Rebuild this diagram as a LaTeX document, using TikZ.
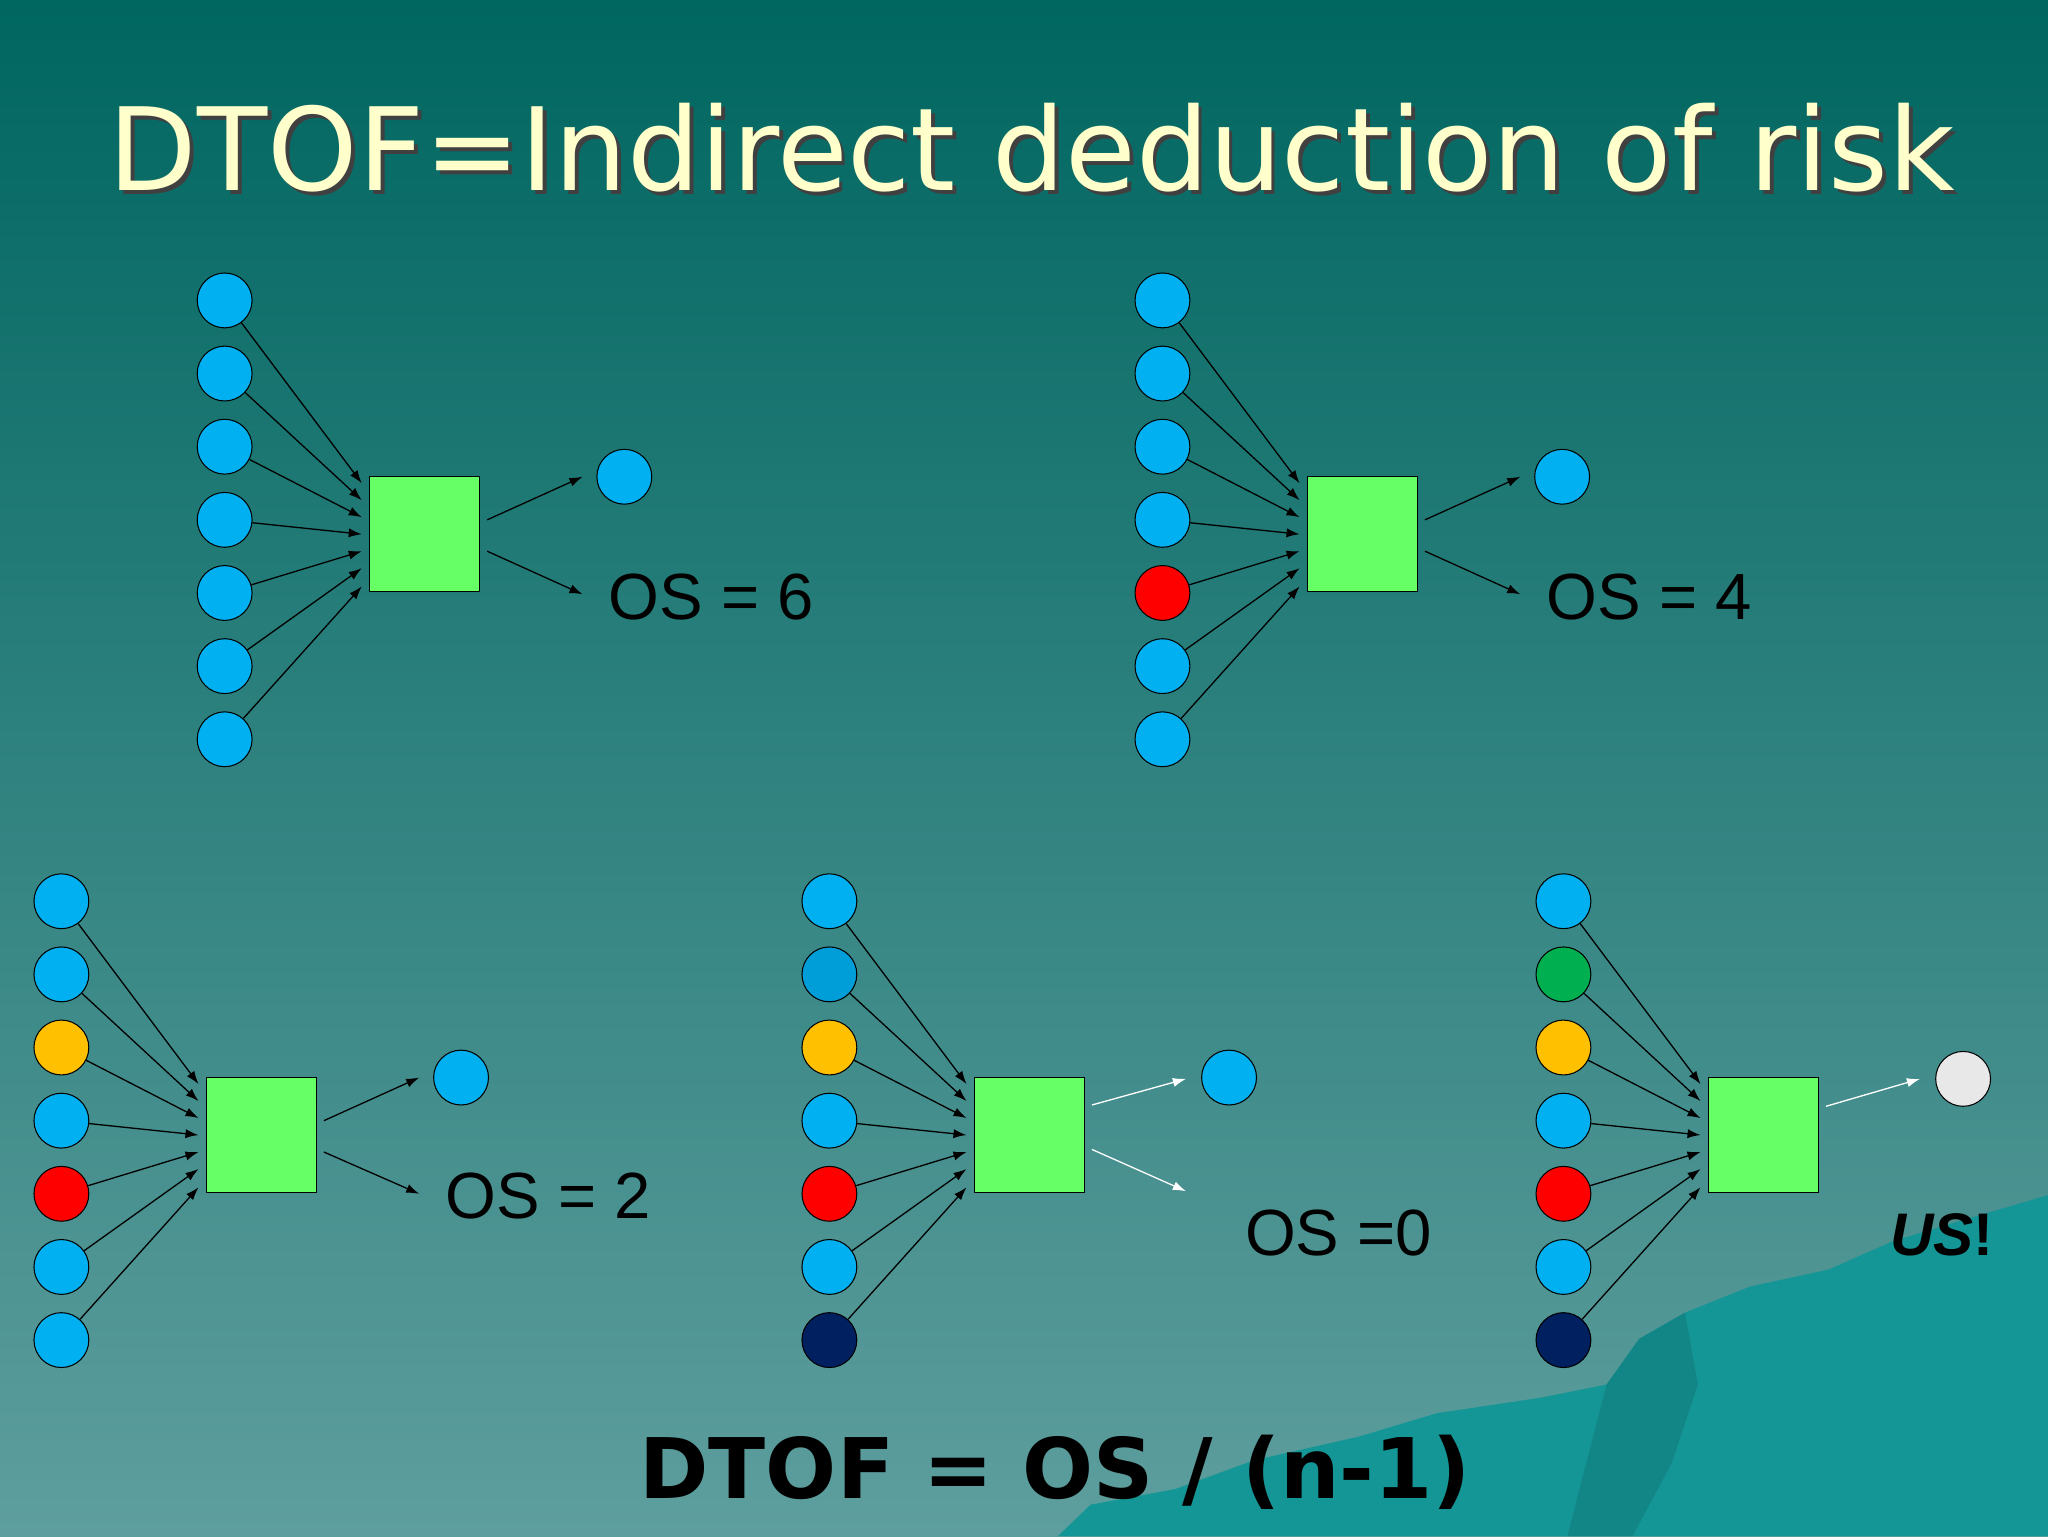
\documentclass[tikz,border=0pt]{standalone}
\usepackage{fontspec}
\setmainfont{Liberation Sans}
\newfontfamily\titlefont{DejaVu Sans}
\usetikzlibrary{arrows.meta}
\definecolor{cblue}{HTML}{00B0F0}
\definecolor{cred}{HTML}{FF0000}
\definecolor{corange}{HTML}{FFC000}
\definecolor{cgreen}{HTML}{00B050}
\definecolor{cnavy}{HTML}{002060}
\definecolor{cgray}{HTML}{E8E8E8}
\definecolor{boxgreen}{HTML}{66FF66}
\definecolor{bgtop}{HTML}{006660}
\definecolor{bgbot}{HTML}{5E9E9E}
\definecolor{mount}{HTML}{159696}
\definecolor{cream}{HTML}{FFFFCC}
\tikzset{
 dot/.style={circle,draw=black,line width=0.8pt,minimum size=42pt,inner sep=0pt},
 box/.style={rectangle,draw=black,line width=0.8pt,fill=boxgreen,minimum width=84pt,minimum height=88pt,inner sep=0pt},
 arr/.style={-{Latex[length=10pt,width=7pt]},line width=1pt},
 lbl/.style={font=\fontsize{50}{54}\selectfont,anchor=base west,inner sep=0pt},
 ttl/.style={font=\titlefont\fontsize{88}{94}\selectfont}
}
\newcommand\grp[4]{%
\begin{scope}[shift={(#2,#3)}]
\node[box] (#1b) at (325,409) {};
\foreach \c [count=\i] in {#4} {\node[dot,fill=\c] (#1c\i) at (172,{230+56*(\i-1)}) {};}
\foreach \i/\t in {1/370,2/383,3/396,4/409,5/422,6/435,7/449} {\coordinate (#1t\i) at (277,\t); \draw[arr] (#1c\i) -- (#1t\i);}
\end{scope}}
\begin{document}
\begin{tikzpicture}[x=1pt,y=-1pt]
\shade[top color=bgtop,bottom color=bgbot] (0,0) rectangle (1568,1176);
\fill[mount] (810,1176) -- (835,1152) -- (900,1140) -- (960,1118) -- (1040,1100) -- (1100,1082) -- (1180,1070) -- (1230,1060) -- (1255,1025) -- (1290,1005) -- (1340,985) -- (1400,972) -- (1450,950) -- (1500,935) -- (1568,915) -- (1568,1176) -- cycle;
\fill[mount!80!black,opacity=0.5] (1255,1025) -- (1290,1005) -- (1300,1060) -- (1280,1120) -- (1250,1176) -- (1200,1176) -- (1230,1060) -- cycle;
\node[ttl,text=black!75] (titleshadow) at (793,116) {DTOF=Indirect deduction of risk};
\node[ttl,text=cream] (title) at (790,113) {DTOF=Indirect deduction of risk};
% group 1
\grp{a}{0}{0}{cblue,cblue,cblue,cblue,cblue,cblue,cblue}
\node[dot,fill=cblue] (ao) at (478,365) {};
\coordinate (as1) at (373,398); \coordinate (ae1) at (446,365);
\coordinate (as2) at (373,422); \coordinate (ae2) at (446,455);
\draw[arr] (as1) -- (ae1); \draw[arr] (as2) -- (ae2);
\node[lbl] (al) at (466,474) {OS = 6};
% group 2
\grp{b}{718}{0}{cblue,cblue,cblue,cblue,cred,cblue,cblue}
\node[dot,fill=cblue] (bo) at (1196,365) {};
\coordinate (bs1) at (1091,398); \coordinate (be1) at (1164,365);
\coordinate (bs2) at (1091,422); \coordinate (be2) at (1164,455);
\draw[arr] (bs1) -- (be1); \draw[arr] (bs2) -- (be2);
\node[lbl] (bl) at (1184,474) {OS = 4};
% group 3
\grp{c}{-125}{460}{cblue,cblue,corange,cblue,cred,cblue,cblue}
\node[dot,fill=cblue] (co) at (353,825) {};
\coordinate (cs1) at (248,858); \coordinate (ce1) at (321,825);
\coordinate (cs2) at (248,882); \coordinate (ce2) at (321,914);
\draw[arr] (cs1) -- (ce1); \draw[arr] (cs2) -- (ce2);
\node[lbl] (cl) at (341,933) {OS = 2};
% group 4
\grp{d}{463}{460}{cblue,cblue!90!black,corange,cblue,cred,cblue,cnavy}
\node[dot,fill=cblue] (do) at (941,825) {};
\coordinate (ds1) at (836,846); \coordinate (de1) at (908,826);
\coordinate (ds2) at (836,880); \coordinate (de2) at (908,912);
\draw[arr,white] (ds1) -- (de1); \draw[arr,white] (ds2) -- (de2);
\node[lbl] (dl) at (953,961) {OS =0};
% group 5
\grp{e}{1025}{460}{cblue,cgreen,corange,cblue,cred,cblue,cnavy}
\node[dot,fill=cgray] (eo) at (1503,826) {};
\coordinate (es1) at (1398,847); \coordinate (ee1) at (1470,826);
\draw[arr,white] (es1) -- (ee1);
\node[lbl,font=\fontsize{46}{50}\selectfont\bfseries] (el) at (1447,961) {\textit{US}!};
% formula
\node[font=\titlefont\fontsize{64}{70}\selectfont\bfseries,anchor=base,inner sep=0pt] (f) at (808,1147) {DTOF = OS / (n-1)};
\end{tikzpicture}
\end{document}
